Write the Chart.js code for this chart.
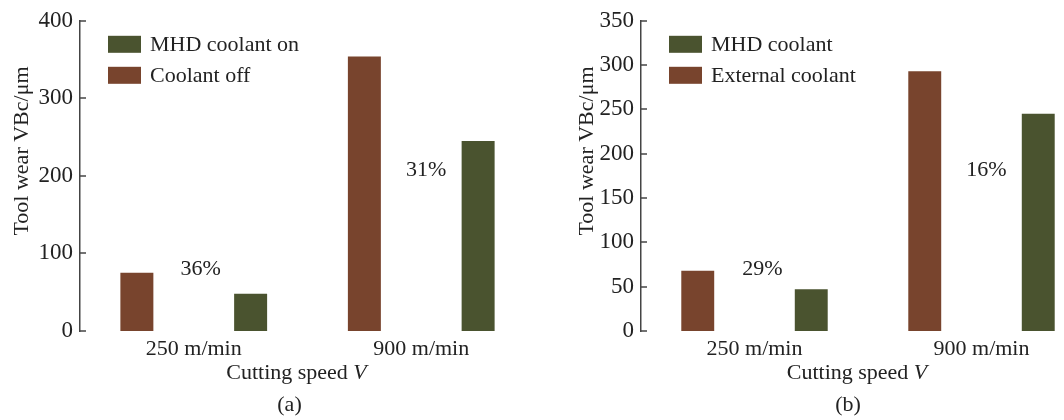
<!DOCTYPE html>
<html>
<head>
<meta charset="utf-8">
<script src="https://cdn.jsdelivr.net/npm/chart.js@4"></script>
<style>
html, body { margin: 0; padding: 0; background: #fff; overflow: hidden; width: 1064px; height: 420px; }
#wrapA { position: absolute; left: 0; top: 0; width: 536px; height: 420px; }
#wrapB { position: absolute; left: 536px; top: 0; width: 560px; height: 420px; }
</style>
</head>
<body>
<div id="wrapA"><canvas id="chartA"></canvas></div>
<div id="wrapB"><canvas id="chartB"></canvas></div>
<script>
// categories
const speeds = ['250 m/min', '900 m/min'];

// panel (a)
const coolantOff = [75, 354];
const mhdCoolantOn = [48, 245];
const reductionA = ['36%', '31%'];
const yTicksA = [0, 100, 200, 300, 400];

// panel (b)
const externalCoolant = [68, 293];
const mhdCoolant = [47, 245];
const reductionB = ['29%', '16%'];
const yTicksB = [0, 50, 100, 150, 200, 250, 300, 350];

const BROWN = '#78442d';
const GREEN = '#4a532f';
const SERIF = '"Liberation Serif", "Times New Roman", serif';
const INK = '#222';

// inward tick marks, reduction labels, legend, axis titles and caption
const extras = {
  id: 'extras',
  afterDraw(chart, args, opts) {
    const { ctx, chartArea, scales } = chart;
    const x = scales.x, y = scales.y;
    ctx.save();
    ctx.strokeStyle = '#444';
    ctx.lineWidth = 1.5;
    y.ticks.forEach(t => {
      const py = Math.round(y.getPixelForValue(t.value));
      ctx.beginPath();
      ctx.moveTo(chartArea.left, py);
      ctx.lineTo(chartArea.left + 6, py);
      ctx.stroke();
    });

    ctx.fillStyle = INK;
    ctx.font = '22px ' + SERIF;
    ctx.textAlign = 'center';
    ctx.textBaseline = 'middle';
    opts.labels.forEach((txt, i) => {
      ctx.fillText(txt, x.getPixelForValue(i) + opts.dx[i], y.getPixelForValue(opts.at[i]));
    });

    // y title
    ctx.save();
    ctx.translate(opts.yTitleX, 151);
    ctx.rotate(-Math.PI / 2);
    ctx.fillText('Tool wear VBc/μm', 0, 0);
    ctx.restore();

    // legend (reversed order, stacked)
    const items = chart.data.datasets.slice().reverse();
    ctx.textAlign = 'left';
    items.forEach((ds, i) => {
      const bx = chartArea.left + 28, by = chartArea.top + 15 + i * 31;
      ctx.fillStyle = ds.backgroundColor;
      ctx.fillRect(bx, by, 33, 17);
      ctx.fillStyle = INK;
      ctx.fillText(ds.label, bx + 42, by + 9);
    });

    // x title: "Cutting speed " + italic V
    const cx = (chartArea.left + chartArea.right) / 2;
    const part1 = 'Cutting speed ';
    ctx.font = '22px ' + SERIF;
    const w1 = ctx.measureText(part1).width;
    ctx.font = 'italic 22px ' + SERIF;
    const w2 = ctx.measureText('V').width;
    let sx = cx + opts.titleDx - (w1 + w2) / 2;
    ctx.font = '22px ' + SERIF;
    ctx.fillText(part1, sx, 373);
    ctx.font = 'italic 22px ' + SERIF;
    ctx.fillText('V', sx + w1, 373);

    ctx.font = '22px ' + SERIF;
    ctx.textAlign = 'center';
    ctx.fillText(opts.caption, cx + opts.captionDx, 405);
    ctx.restore();
  }
};

function makeChart(id, series, names, ticks, yWidth, padLeft, ann) {
  return new Chart(document.getElementById(id), {
    type: 'bar',
    data: {
      labels: speeds,
      datasets: [
        { label: names[0], data: series[0], backgroundColor: BROWN },
        { label: names[1], data: series[1], backgroundColor: GREEN }
      ]
    },
    options: {
      responsive: true,
      maintainAspectRatio: false,
      animation: false,
      layout: { padding: { left: padLeft, right: 1, top: 16, bottom: 0 } },
      datasets: { bar: { barPercentage: 0.29, categoryPercentage: 1 } },
      plugins: {
        legend: { display: false },
        tooltip: { enabled: false },
        extras: ann
      },
      scales: {
        x: {
          grid: { display: false, drawTicks: false },
          border: { display: false },
          ticks: { color: INK, font: { family: SERIF, size: 22 }, padding: 5, maxRotation: 0 },
          afterFit: s => { s.height = 89; }
        },
        y: {
          min: ticks[0],
          max: ticks[ticks.length - 1],
          afterBuildTicks: s => { s.ticks = ticks.map(v => ({ value: v })); },
          grid: { display: false, drawTicks: false },
          border: { display: true, color: '#444', width: 1.5 },
          ticks: { color: INK, font: { family: SERIF, size: 23 }, padding: 7 },
          afterFit: s => { s.width = yWidth; }
        }
      }
    },
    plugins: [extras]
  });
}

makeChart('chartA', [coolantOff, mhdCoolantOn], ['Coolant off', 'MHD coolant on'], yTicksA, 80, 0,
  { labels: reductionA, at: [80, 207], dx: [7, 5], titleDx: -11, caption: '(a)', captionDx: -18, yTitleX: 22 });

makeChart('chartB', [externalCoolant, mhdCoolant], ['External coolant', 'MHD coolant'], yTicksB, 76, 29,
  { labels: reductionB, at: [70, 181], dx: [8, 5], titleDx: -11, caption: '(b)', captionDx: -20, yTitleX: 51 });
</script>
</body>
</html>
